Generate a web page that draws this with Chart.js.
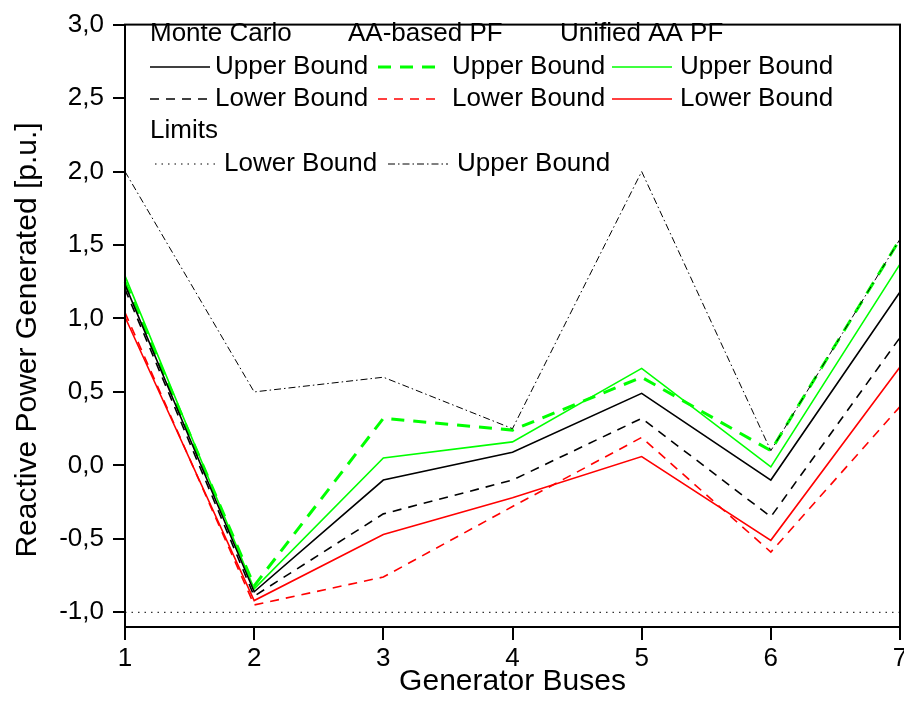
<!DOCTYPE html>
<html>
<head>
<meta charset="utf-8">
<script src="https://cdn.jsdelivr.net/npm/chart.js@4/dist/chart.umd.min.js"></script>
<style>
  html, body { margin: 0; padding: 0; background: #fff; }
  #wrap { width: 904px; height: 720px; }
</style>
</head>
<body>
<div id="wrap"><canvas id="qgen" width="904" height="720"></canvas></div>
<script>
const buses = ['1', '2', '3', '4', '5', '6', '7']

// reactive power per generator bus [p.u.]
const mcUpper = [1.23, -0.86, -0.10, 0.09, 0.49, -0.10, 1.18]
const mcLower = [1.20, -0.89, -0.33, -0.10, 0.32, -0.35, 0.87]
const aaUpper = [1.25, -0.82, 0.32, 0.24, 0.60, 0.10, 1.54]
const aaLower = [1.04, -0.95, -0.76, -0.28, 0.19, -0.59, 0.40]
const unifiedUpper = [1.29, -0.84, 0.05, 0.16, 0.66, -0.01, 1.37]
const unifiedLower = [1.01, -0.92, -0.47, -0.22, 0.06, -0.51, 0.67]
const limitLower = [-1.0, -1.0, -1.0, -1.0, -1.0, -1.0, -1.0]
const limitUpper = [2.0, 0.50, 0.60, 0.25, 2.0, 0.10, 1.54]

const yMin = -1.1
const yMax = 3.0
const yStep = 0.5

const FONT = "'Liberation Sans', Arial, sans-serif"
const GREEN = '#00ff00'
const RED = '#ff0000'

function series(data, color, width, dash) {
  return {
    data,
    borderColor: color,
    backgroundColor: color,
    borderWidth: width,
    borderDash: dash,
    pointRadius: 0,
    tension: 0,
    fill: false
  }
}

const datasets = [
  series(limitLower, '#000', 1, [1.5, 5]),
  series(limitUpper, '#000', 1, [7, 3, 1.5, 3]),
  series(mcUpper, '#000', 1.6, []),
  series(mcLower, '#000', 1.6, [9, 7]),
  series(aaUpper, GREEN, 3, [13, 9]),
  series(aaLower, RED, 1.6, [9, 7]),
  series(unifiedUpper, GREEN, 1.6, []),
  series(unifiedLower, RED, 1.6, [])
]

// frame around the plot area
const frame = {
  id: 'frame',
  afterDatasetsDraw(chart) {
    const { ctx, chartArea: a } = chart
    ctx.save()
    ctx.strokeStyle = '#000'
    ctx.lineWidth = 2
    ctx.strokeRect(a.left, a.top, a.right - a.left, a.bottom - a.top)
    ctx.restore()
  }
}

// y axis title, sits a little below the middle of the plot
const yTitle = {
  id: 'yTitle',
  afterDraw(chart) {
    const { ctx } = chart
    ctx.save()
    ctx.translate(28, 340)
    ctx.rotate(-Math.PI / 2)
    ctx.font = '30px ' + FONT
    ctx.fillStyle = '#000'
    ctx.textAlign = 'center'
    ctx.textBaseline = 'middle'
    ctx.fillText('Reactive Power Generated [p.u.]', 0, 0)
    ctx.restore()
  }
}

// grouped legend drawn inside the plot
const groupLegend = {
  id: 'groupLegend',
  afterDraw(chart) {
    const { ctx } = chart
    const ds = chart.data.datasets
    ctx.save()
    ctx.font = '26px ' + FONT
    ctx.fillStyle = '#000'
    ctx.textBaseline = 'middle'
    ctx.textAlign = 'left'

    const sample = (d, x1, x2, y) => {
      ctx.save()
      ctx.strokeStyle = d.borderColor
      ctx.lineWidth = d.borderWidth
      ctx.setLineDash(d.borderDash)
      ctx.beginPath()
      ctx.moveTo(x1, y)
      ctx.lineTo(x2, y)
      ctx.stroke()
      ctx.restore()
    }

    ctx.fillText('Monte Carlo', 150, 34)
    ctx.fillText('AA-based PF', 348, 34)
    ctx.fillText('Unified AA PF', 560, 34)

    const cols = [
      { x1: 150, x2: 210, tx: 215, up: ds[2], low: ds[3] },
      { x1: 378, x2: 440, tx: 452, up: ds[4], low: ds[5] },
      { x1: 612, x2: 672, tx: 680, up: ds[6], low: ds[7] }
    ]
    cols.forEach(c => {
      sample(c.up, c.x1, c.x2, 67)
      ctx.fillText('Upper Bound', c.tx, 67)
      sample(c.low, c.x1, c.x2, 99)
      ctx.fillText('Lower Bound', c.tx, 99)
    })

    ctx.fillText('Limits', 150, 131)
    sample(ds[0], 155, 215, 164)
    ctx.fillText('Lower Bound', 224, 164)
    sample(ds[1], 388, 448, 164)
    ctx.fillText('Upper Bound', 457, 164)
    ctx.restore()
  }
}

new Chart(document.getElementById('qgen'), {
  type: 'line',
  data: { labels: buses, datasets },
  options: {
    responsive: false,
    animation: false,
    layout: { padding: { top: 15, right: 4, left: 0, bottom: 0 } },
    plugins: {
      legend: { display: false },
      tooltip: { enabled: false }
    },
    scales: {
      x: {
        type: 'category',
        offset: false,
        afterFit: s => {
          s.height = 93
          // let the last label run past the frame, plot spans the full width
          s.paddingLeft = 0
          s.paddingRight = 0
        },
        border: { display: false },
        grid: {
          offset: false,
          drawOnChartArea: false,
          color: '#000',
          lineWidth: 2,
          tickLength: 13
        },
        ticks: {
          color: '#000',
          padding: 3,
          maxRotation: 0,
          font: { family: FONT, size: 26 }
        },
        title: {
          display: true,
          text: 'Generator Buses',
          color: '#000',
          padding: { top: 0, bottom: 20 },
          font: { family: FONT, size: 30 }
        }
      },
      y: {
        min: yMin,
        max: yMax,
        afterFit: s => { s.width = 125 },
        border: { display: false },
        grid: {
          drawOnChartArea: false,
          color: '#000',
          lineWidth: 2,
          tickLength: 12
        },
        ticks: {
          stepSize: yStep,
          includeBounds: false,
          color: '#000',
          padding: 9,
          font: { family: FONT, size: 26 },
          callback: v => v.toFixed(1).replace('.', ',')
        }
      }
    }
  },
  plugins: [frame, yTitle, groupLegend]
})
</script>
</body>
</html>
